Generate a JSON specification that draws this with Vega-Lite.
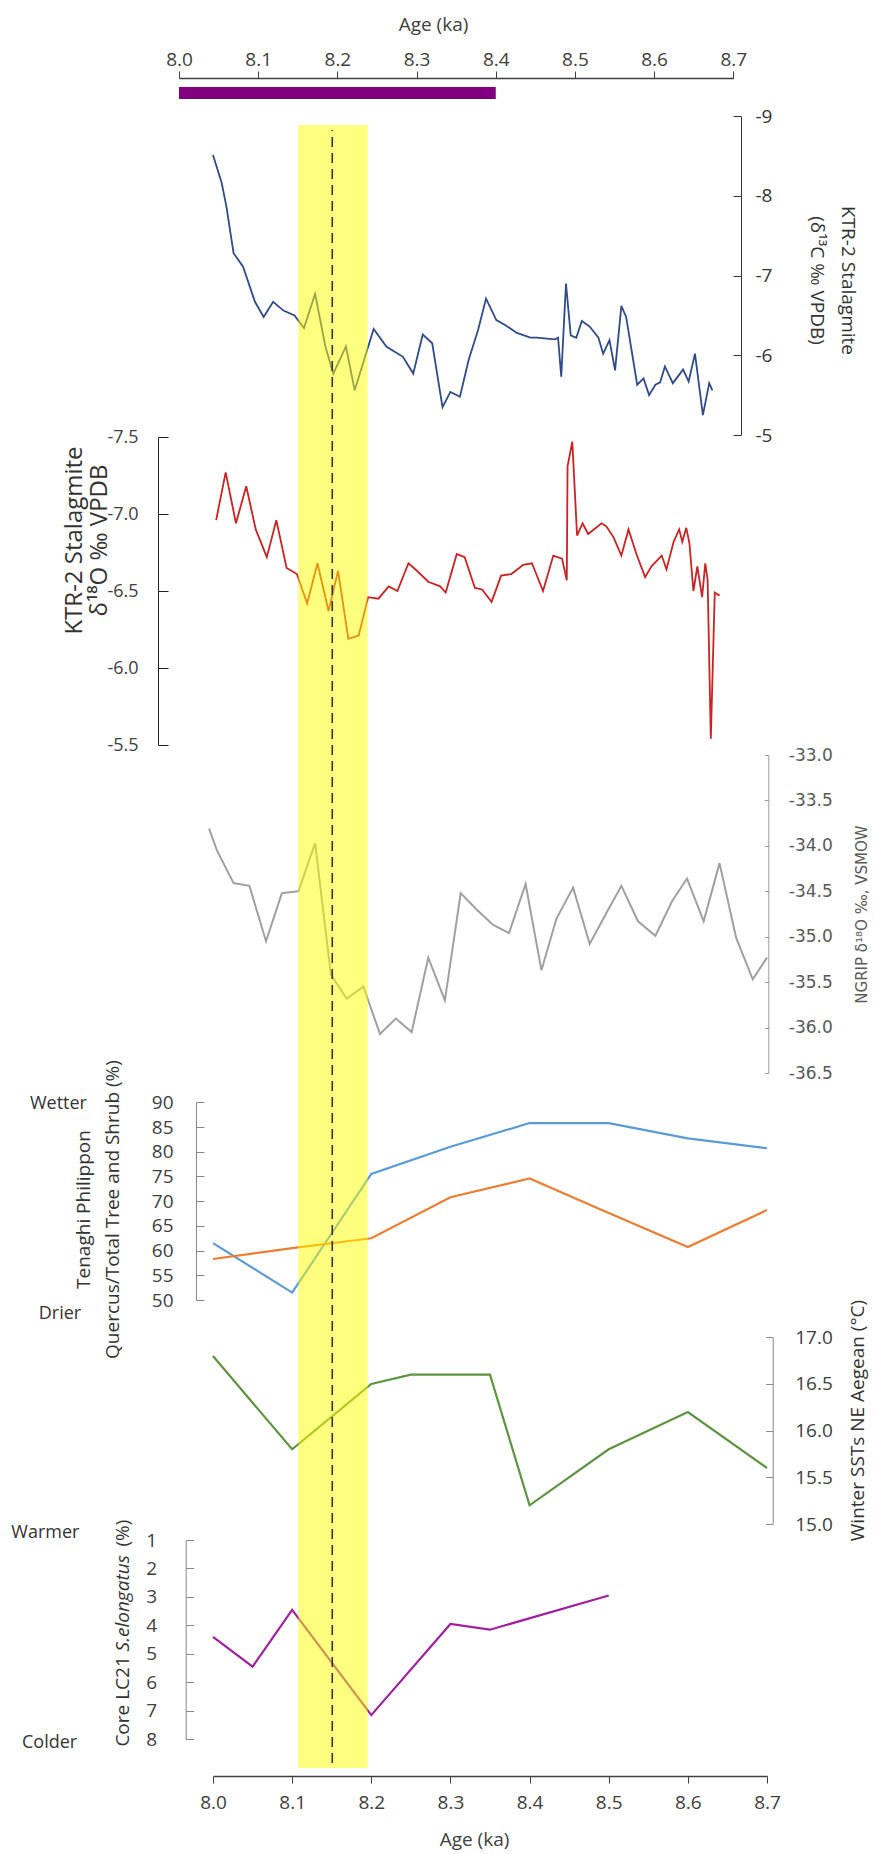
{
  "$schema": "https://vega.github.io/schema/vega-lite/v6.json",
  "width": 874,
  "height": 1854,
  "autosize": "none",
  "padding": 0,
  "background": "white",
  "config": {
    "view": {"stroke": null},
    "font": "Open Sans",
    "axis": {
      "grid": false,
      "labelFont": "Open Sans",
      "labelFontSize": 19,
      "labelColor": "#404040",
      "titleFont": "Open Sans",
      "titleFontSize": 19,
      "titleFontWeight": "normal",
      "titleColor": "#404040",
      "domainColor": "#404040",
      "tickColor": "#404040",
      "labelFlush": false,
      "labelOverlap": false,
      "labelBound": false,
      "titleBaseline": "middle",
      "titleAlign": "center"
    }
  },
  "datasets": {
    "c13": [
      {"age": 8.000, "v": -8.51}, {"age": 8.011, "v": -8.16}, {"age": 8.017, "v": -7.86}, {"age": 8.026, "v": -7.28},
      {"age": 8.038, "v": -7.11}, {"age": 8.053, "v": -6.67}, {"age": 8.064, "v": -6.48}, {"age": 8.076, "v": -6.67},
      {"age": 8.089, "v": -6.56}, {"age": 8.103, "v": -6.50}, {"age": 8.115, "v": -6.34}, {"age": 8.129, "v": -6.77},
      {"age": 8.142, "v": -6.11}, {"age": 8.152, "v": -5.77}, {"age": 8.168, "v": -6.11}, {"age": 8.179, "v": -5.56},
      {"age": 8.203, "v": -6.33}, {"age": 8.219, "v": -6.11}, {"age": 8.240, "v": -5.98}, {"age": 8.253, "v": -5.77},
      {"age": 8.265, "v": -6.26}, {"age": 8.277, "v": -6.15}, {"age": 8.290, "v": -5.35}, {"age": 8.300, "v": -5.54},
      {"age": 8.312, "v": -5.48}, {"age": 8.323, "v": -5.94}, {"age": 8.335, "v": -6.32}, {"age": 8.345, "v": -6.71},
      {"age": 8.358, "v": -6.44}, {"age": 8.369, "v": -6.38}, {"age": 8.384, "v": -6.28}, {"age": 8.401, "v": -6.22},
      {"age": 8.409, "v": -6.22}, {"age": 8.432, "v": -6.20}, {"age": 8.436, "v": -6.22}, {"age": 8.440, "v": -5.73},
      {"age": 8.446, "v": -6.90}, {"age": 8.452, "v": -6.25}, {"age": 8.459, "v": -6.22}, {"age": 8.466, "v": -6.43},
      {"age": 8.476, "v": -6.36}, {"age": 8.487, "v": -6.22}, {"age": 8.493, "v": -6.02}, {"age": 8.501, "v": -6.19},
      {"age": 8.508, "v": -5.81}, {"age": 8.516, "v": -6.62}, {"age": 8.522, "v": -6.48}, {"age": 8.536, "v": -5.63},
      {"age": 8.544, "v": -5.71}, {"age": 8.551, "v": -5.50}, {"age": 8.559, "v": -5.63}, {"age": 8.565, "v": -5.66},
      {"age": 8.571, "v": -5.86}, {"age": 8.581, "v": -5.65}, {"age": 8.594, "v": -5.82}, {"age": 8.601, "v": -5.67},
      {"age": 8.609, "v": -6.02}, {"age": 8.619, "v": -5.25}, {"age": 8.627, "v": -5.65}, {"age": 8.631, "v": -5.56}
    ],
    "o18": [
      {"age": 8.004, "v": -6.96}, {"age": 8.016, "v": -7.27}, {"age": 8.029, "v": -6.94}, {"age": 8.042, "v": -7.18},
      {"age": 8.054, "v": -6.90}, {"age": 8.068, "v": -6.72}, {"age": 8.080, "v": -6.96}, {"age": 8.093, "v": -6.65},
      {"age": 8.106, "v": -6.61}, {"age": 8.119, "v": -6.42}, {"age": 8.132, "v": -6.68}, {"age": 8.146, "v": -6.37},
      {"age": 8.158, "v": -6.63}, {"age": 8.171, "v": -6.19}, {"age": 8.184, "v": -6.21}, {"age": 8.196, "v": -6.46},
      {"age": 8.209, "v": -6.45}, {"age": 8.222, "v": -6.53}, {"age": 8.233, "v": -6.50}, {"age": 8.247, "v": -6.68},
      {"age": 8.258, "v": -6.63}, {"age": 8.272, "v": -6.56}, {"age": 8.287, "v": -6.53}, {"age": 8.294, "v": -6.49},
      {"age": 8.308, "v": -6.74}, {"age": 8.318, "v": -6.72}, {"age": 8.331, "v": -6.52}, {"age": 8.340, "v": -6.51},
      {"age": 8.352, "v": -6.43}, {"age": 8.364, "v": -6.60}, {"age": 8.377, "v": -6.61}, {"age": 8.392, "v": -6.67},
      {"age": 8.403, "v": -6.68}, {"age": 8.417, "v": -6.50}, {"age": 8.430, "v": -6.73}, {"age": 8.441, "v": -6.71},
      {"age": 8.447, "v": -6.57}, {"age": 8.448, "v": -7.31}, {"age": 8.454, "v": -7.47}, {"age": 8.460, "v": -6.86},
      {"age": 8.467, "v": -6.94}, {"age": 8.474, "v": -6.87}, {"age": 8.491, "v": -6.94}, {"age": 8.497, "v": -6.92},
      {"age": 8.506, "v": -6.85}, {"age": 8.516, "v": -6.73}, {"age": 8.525, "v": -6.90}, {"age": 8.535, "v": -6.74},
      {"age": 8.546, "v": -6.59}, {"age": 8.554, "v": -6.66}, {"age": 8.567, "v": -6.73}, {"age": 8.573, "v": -6.64},
      {"age": 8.582, "v": -6.82}, {"age": 8.589, "v": -6.90}, {"age": 8.593, "v": -6.82}, {"age": 8.598, "v": -6.91},
      {"age": 8.602, "v": -6.81}, {"age": 8.607, "v": -6.50}, {"age": 8.612, "v": -6.66}, {"age": 8.618, "v": -6.46},
      {"age": 8.622, "v": -6.68}, {"age": 8.625, "v": -6.57}, {"age": 8.629, "v": -5.54}, {"age": 8.634, "v": -6.49},
      {"age": 8.640, "v": -6.47}
    ],
    "ngrip": [
      {"age": 7.995, "v": -33.81}, {"age": 8.005, "v": -34.05}, {"age": 8.026, "v": -34.41}, {"age": 8.046, "v": -34.44},
      {"age": 8.067, "v": -35.05}, {"age": 8.087, "v": -34.52}, {"age": 8.108, "v": -34.50}, {"age": 8.129, "v": -33.97},
      {"age": 8.149, "v": -35.42}, {"age": 8.169, "v": -35.68}, {"age": 8.190, "v": -35.55}, {"age": 8.211, "v": -36.07},
      {"age": 8.231, "v": -35.90}, {"age": 8.251, "v": -36.05}, {"age": 8.272, "v": -35.23}, {"age": 8.293, "v": -35.70},
      {"age": 8.313, "v": -34.52}, {"age": 8.333, "v": -34.70}, {"age": 8.354, "v": -34.87}, {"age": 8.374, "v": -34.96},
      {"age": 8.395, "v": -34.42}, {"age": 8.415, "v": -35.37}, {"age": 8.434, "v": -34.80}, {"age": 8.455, "v": -34.46},
      {"age": 8.476, "v": -35.08}, {"age": 8.497, "v": -34.74}, {"age": 8.516, "v": -34.44}, {"age": 8.537, "v": -34.83},
      {"age": 8.559, "v": -34.99}, {"age": 8.580, "v": -34.61}, {"age": 8.599, "v": -34.36}, {"age": 8.620, "v": -34.83},
      {"age": 8.640, "v": -34.19}, {"age": 8.661, "v": -35.01}, {"age": 8.682, "v": -35.47}, {"age": 8.700, "v": -35.23}
    ],
    "ten": [
      {"age": 8.0, "v": 61.5, "s": "Quercus"}, {"age": 8.1, "v": 51.5, "s": "Quercus"}, {"age": 8.2, "v": 75.5, "s": "Quercus"},
      {"age": 8.3, "v": 81.0, "s": "Quercus"}, {"age": 8.4, "v": 85.8, "s": "Quercus"}, {"age": 8.5, "v": 85.8, "s": "Quercus"},
      {"age": 8.6, "v": 82.7, "s": "Quercus"}, {"age": 8.7, "v": 80.7, "s": "Quercus"},
      {"age": 8.0, "v": 58.3, "s": "TreeShrub"}, {"age": 8.1, "v": 60.5, "s": "TreeShrub"}, {"age": 8.2, "v": 62.5, "s": "TreeShrub"},
      {"age": 8.3, "v": 70.8, "s": "TreeShrub"}, {"age": 8.4, "v": 74.6, "s": "TreeShrub"}, {"age": 8.5, "v": 67.6, "s": "TreeShrub"},
      {"age": 8.6, "v": 60.7, "s": "TreeShrub"}, {"age": 8.7, "v": 68.2, "s": "TreeShrub"}
    ],
    "sst": [
      {"age": 8.0, "v": 16.8}, {"age": 8.1, "v": 15.8}, {"age": 8.2, "v": 16.5}, {"age": 8.25, "v": 16.6},
      {"age": 8.35, "v": 16.6}, {"age": 8.4, "v": 15.2}, {"age": 8.5, "v": 15.8}, {"age": 8.6, "v": 16.2}, {"age": 8.7, "v": 15.6}
    ],
    "lc21": [
      {"age": 8.0, "v": 4.4}, {"age": 8.05, "v": 5.45}, {"age": 8.1, "v": 3.45}, {"age": 8.2, "v": 7.15},
      {"age": 8.3, "v": 3.95}, {"age": 8.35, "v": 4.15}, {"age": 8.5, "v": 2.95}
    ]
  },
  "layer": [
    {
      "data": {"values": [{"start": 8.0, "end": 8.4}]},
      "mark": {"type": "rect", "color": "#800080"},
      "encoding": {
        "x": {
          "field": "start", "type": "quantitative",
          "scale": {"domain": [8.0, 8.7], "range": [179, 733.3], "nice": false, "zero": false},
          "axis": {
            "orient": "top", "offset": -78,
            "values": [8.0, 8.1, 8.2, 8.3, 8.4, 8.5, 8.6, 8.7], "format": ".1f",
            "tickSize": 7, "labelPadding": 2, "domainWidth": 1.3,
            "title": "Age (ka)", "titleX": 433, "titleY": -54
          }
        },
        "x2": {"field": "end"},
        "y": {"datum": 0, "type": "quantitative", "scale": {"domain": [0, 1], "range": [99, 87]}, "axis": null},
        "y2": {"datum": 1}
      }
    },
    {
      "data": {"name": "c13"},
      "mark": {"type": "line", "color": "#2f4b8a", "strokeWidth": 1.8},
      "encoding": {
        "x": {"field": "age", "type": "quantitative", "scale": {"domain": [8.0, 8.7], "range": [213, 767], "nice": false, "zero": false}, "axis": null},
        "y": {
          "field": "v", "type": "quantitative",
          "scale": {"domain": [-9, -5], "range": [116, 435], "nice": false, "zero": false},
          "axis": {
            "orient": "right", "offset": -133,
            "values": [-9, -8, -7, -6, -5], "format": "d",
            "labelExpr": "replace(datum.label, '\u2212', '-')",
            "tickSize": -8, "labelPadding": 22, "domainColor": "#333333", "tickColor": "#333333", "labelColor": "#333333",
            "title": ["KTR-2 Stalagmite", "(δ¹³C ‰ VPDB)"], "titleAngle": 90, "titleX": 106, "titleY": 280,
            "titleLineHeight": 31, "titleColor": "#333333"
          }
        }
      }
    },
    {
      "data": {"name": "o18"},
      "mark": {"type": "line", "color": "#cc2222", "strokeWidth": 1.8},
      "encoding": {
        "x": {"field": "age", "type": "quantitative", "scale": {"domain": [8.0, 8.7], "range": [213, 767], "nice": false, "zero": false}, "axis": null},
        "y": {
          "field": "v", "type": "quantitative",
          "scale": {"domain": [-7.5, -5.5], "range": [437, 745], "nice": false, "zero": false},
          "axis": {
            "orient": "left", "offset": -158,
            "values": [-7.5, -7.0, -6.5, -6.0, -5.5], "format": ".1f",
            "labelExpr": "replace(datum.label, '\u2212', '-')",
            "labelFontSize": 18,
            "tickSize": -10, "labelPadding": 30, "domainColor": "#222222", "tickColor": "#222222",
            "title": ["KTR-2 Stalagmite", "δ¹⁸O ‰ VPDB"], "titleFontSize": 24, "titleAngle": 270, "titleX": -84, "titleY": 540,
            "titleLineHeight": 25, "titleColor": "#333333"
          }
        }
      }
    },
    {
      "data": {"name": "ngrip"},
      "mark": {"type": "line", "color": "#a0a0a0", "strokeWidth": 2},
      "encoding": {
        "x": {"field": "age", "type": "quantitative", "scale": {"domain": [8.0, 8.7], "range": [213, 767], "nice": false, "zero": false}, "axis": null},
        "y": {
          "field": "v", "type": "quantitative",
          "scale": {"domain": [-36.5, -33], "range": [1073, 755], "nice": false, "zero": false},
          "axis": {
            "orient": "right", "offset": -105.7,
            "values": [-36.5, -36, -35.5, -35, -34.5, -34, -33.5, -33], "format": ".1f",
            "labelExpr": "replace(datum.label, '\u2212', '-')",
            "tickSize": -4, "labelPadding": 24, "domainColor": "#9a9a9a", "tickColor": "#9a9a9a",
            "labelFont": "DejaVu Sans", "labelFontSize": 17, "labelColor": "#595959",
            "title": "NGRIP δ¹⁸O ‰, VSMOW", "titleFont": "DejaVu Sans", "titleFontSize": 15, "titleColor": "#595959",
            "titleAngle": 270, "titleX": 93, "titleY": 914
          }
        }
      }
    },
    {
      "data": {"name": "ten"},
      "mark": {"type": "line", "strokeWidth": 2.2},
      "encoding": {
        "x": {"field": "age", "type": "quantitative", "scale": {"domain": [8.0, 8.7], "range": [213, 767], "nice": false, "zero": false}, "axis": null},
        "y": {
          "field": "v", "type": "quantitative",
          "scale": {"domain": [50, 90], "range": [1300, 1102.3], "nice": false, "zero": false},
          "axis": {
            "orient": "left", "offset": -196,
            "values": [50, 55, 60, 65, 70, 75, 80, 85, 90], "format": "d",
            "tickSize": -8, "labelPadding": 31, "domainColor": "#888888", "tickColor": "#888888",
            "title": ["Tenaghi Philippon", "Quercus/Total Tree and Shrub (%)"], "titleAngle": 270,
            "titleX": -113, "titleY": 1209, "titleLineHeight": 29, "titleColor": "#333333"
          }
        },
        "color": {
          "field": "s", "type": "nominal",
          "scale": {"domain": ["Quercus", "TreeShrub"], "range": ["#5b9bd5", "#ed7d31"]},
          "legend": null
        }
      }
    },
    {
      "data": {"values": [{"label": "Wetter", "age": 7.8047, "v": 89.7}, {"label": "Drier", "age": 7.8066, "v": 47.2}]},
      "mark": {"type": "text", "font": "Open Sans", "fontSize": 18, "color": "#333333", "align": "center", "baseline": "middle"},
      "encoding": {
        "x": {"field": "age", "type": "quantitative", "scale": {"domain": [8.0, 8.7], "range": [213, 767], "nice": false, "zero": false}, "axis": null},
        "y": {"field": "v", "type": "quantitative", "scale": {"domain": [50, 90], "range": [1300, 1102.3], "nice": false, "zero": false}, "axis": null},
        "text": {"field": "label"}
      }
    },
    {
      "data": {"name": "sst"},
      "mark": {"type": "line", "color": "#5e9440", "strokeWidth": 2.2},
      "encoding": {
        "x": {"field": "age", "type": "quantitative", "scale": {"domain": [8.0, 8.7], "range": [213, 767], "nice": false, "zero": false}, "axis": null},
        "y": {
          "field": "v", "type": "quantitative",
          "scale": {"domain": [15, 17], "range": [1524, 1337.3], "nice": false, "zero": false},
          "axis": {
            "orient": "right", "offset": -101.3,
            "values": [15, 15.5, 16, 16.5, 17], "format": ".1f",
            "tickSize": -7, "labelPadding": 29, "domainColor": "#888888", "tickColor": "#888888",
            "title": "Winter SSTs NE Aegean (°C)", "titleAngle": 270, "titleX": 85, "titleY": 1420, "titleColor": "#333333"
          }
        }
      }
    },
    {
      "data": {"name": "lc21"},
      "mark": {"type": "line", "color": "#a020a0", "strokeWidth": 2.2},
      "encoding": {
        "x": {
          "field": "age", "type": "quantitative",
          "scale": {"domain": [8.0, 8.7], "range": [213, 767], "nice": false, "zero": false},
          "axis": {
            "orient": "bottom", "offset": -78,
            "values": [8.0, 8.1, 8.2, 8.3, 8.4, 8.5, 8.6, 8.7], "format": ".1f",
            "tickSize": 7, "labelPadding": 10, "domainWidth": 1.3,
            "title": "Age (ka)", "titleX": 474, "titleY": 63
          }
        },
        "y": {
          "field": "v", "type": "quantitative",
          "scale": {"domain": [1, 8], "range": [1540, 1739.3], "nice": false, "zero": false},
          "axis": {
            "orient": "left", "offset": -185.7,
            "values": [1, 2, 3, 4, 5, 6, 7, 8], "format": "d",
            "tickSize": -8, "labelPadding": 37, "domainColor": "#888888", "tickColor": "#888888",
            "title": null
          }
        }
      }
    },
    {
      "data": {"values": [
        {"label": "Warmer", "age": 7.7882, "v": 0.74},
        {"label": "Colder", "age": 7.7935, "v": 8.14}
      ]},
      "mark": {"type": "text", "font": "Open Sans", "fontSize": 18, "color": "#333333", "align": "center", "baseline": "middle"},
      "encoding": {
        "x": {"field": "age", "type": "quantitative", "scale": {"domain": [8.0, 8.7], "range": [213, 767], "nice": false, "zero": false}, "axis": null},
        "y": {"field": "v", "type": "quantitative", "scale": {"domain": [1, 8], "range": [1540, 1739.3], "nice": false, "zero": false}, "axis": null},
        "text": {"field": "label"}
      }
    },
    {
      "data": {"values": [
        {"label": "Core LC21", "age": 7.886, "v": 8.257},
        {"label": "(%)", "age": 7.886, "v": 1.228}
      ]},
      "mark": {"type": "text", "font": "Open Sans", "fontSize": 19, "color": "#333333", "align": "left", "baseline": "middle", "angle": 270},
      "encoding": {
        "x": {"field": "age", "type": "quantitative", "scale": {"domain": [8.0, 8.7], "range": [213, 767], "nice": false, "zero": false}, "axis": null},
        "y": {"field": "v", "type": "quantitative", "scale": {"domain": [1, 8], "range": [1540, 1739.3], "nice": false, "zero": false}, "axis": null},
        "text": {"field": "label"}
      }
    },
    {
      "data": {"values": [
        {"label": "S.elongatus", "age": 7.886, "v": 4.913}
      ]},
      "mark": {"type": "text", "font": "Open Sans", "fontSize": 19, "fontStyle": "italic", "color": "#333333", "align": "left", "baseline": "middle", "angle": 270},
      "encoding": {
        "x": {"field": "age", "type": "quantitative", "scale": {"domain": [8.0, 8.7], "range": [213, 767], "nice": false, "zero": false}, "axis": null},
        "y": {"field": "v", "type": "quantitative", "scale": {"domain": [1, 8], "range": [1540, 1739.3], "nice": false, "zero": false}, "axis": null},
        "text": {"field": "label"}
      }
    },
    {
      "data": {"values": [{"start": 8.1078, "end": 8.1955}]},
      "mark": {"type": "rect", "color": "#ffff00", "opacity": 0.5},
      "encoding": {
        "x": {"field": "start", "type": "quantitative", "scale": {"domain": [8.0, 8.7], "range": [213, 767], "nice": false, "zero": false}, "axis": null},
        "x2": {"field": "end"},
        "y": {"datum": 0, "type": "quantitative", "scale": {"domain": [0, 1], "range": [1768, 125]}, "axis": null},
        "y2": {"datum": 1}
      }
    },
    {
      "data": {"values": [{"age": 8.1507}]},
      "mark": {"type": "rule", "color": "#333333", "strokeWidth": 1.6, "strokeDash": [10, 6]},
      "encoding": {
        "x": {"field": "age", "type": "quantitative", "scale": {"domain": [8.0, 8.7], "range": [213, 767], "nice": false, "zero": false}, "axis": null},
        "y": {"datum": 0.003, "type": "quantitative", "scale": {"domain": [0, 1], "range": [1768, 125]}, "axis": null},
        "y2": {"datum": 0.997}
      }
    }
  ],
  "resolve": {"scale": {"x": "independent", "y": "independent", "color": "independent"}, "axis": {"x": "independent", "y": "independent"}}
}
